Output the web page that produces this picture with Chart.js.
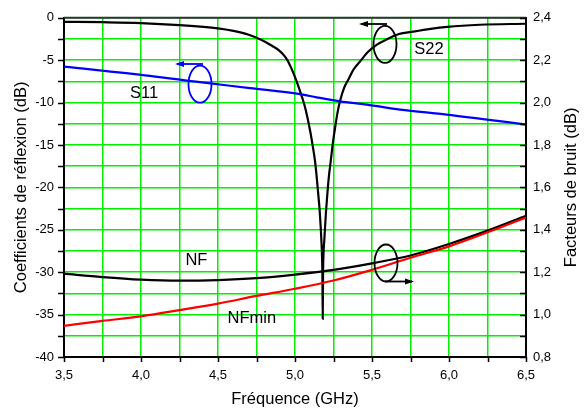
<!DOCTYPE html>
<html>
<head>
<meta charset="utf-8">
<script src="https://cdn.jsdelivr.net/npm/chart.js@4/dist/chart.umd.min.js"></script>
<style>
html,body{margin:0;padding:0;background:#fff;}
#wrap{width:585px;height:409px;position:relative;}
</style>
</head>
<body>
<div id="wrap"><canvas id="c" width="585" height="409"></canvas></div>
<script>
// ---- Data ----
const s22Freq = [3.5, 3.75, 4.0, 4.25, 4.5, 4.6, 4.7, 4.78, 4.85, 4.9, 4.94, 4.97, 5.0, 5.03, 5.06, 5.08, 5.1, 5.115, 5.13, 5.14, 5.151, 5.16, 5.167, 5.172, 5.175, 5.178, 5.180,
                 5.182, 5.185, 5.19, 5.195, 5.202, 5.21, 5.22, 5.232, 5.245, 5.26, 5.275, 5.292, 5.32, 5.346, 5.38, 5.422, 5.47, 5.532, 5.6, 5.662, 5.766, 5.88, 5.99, 6.2, 6.5];
const s22Val  = [-0.47, -0.52, -0.62, -0.86, -1.25, -1.55, -2.0, -2.6, -3.3, -3.9, -4.7, -5.7, -7.0, -8.5, -10.2, -11.7, -13.5, -15.1, -16.9, -18.6, -20.8, -22.7, -24.7, -26.5, -27.84, -30.5, -35.5,
                 -30.5, -27.84, -26.3, -24.7, -22.7, -20.8, -18.7, -16.9, -14.9, -13.0, -11.3, -9.85, -8.2, -7.3, -6.1, -5.16, -4.1, -3.17, -2.5, -1.99, -1.64, -1.3, -1.06, -0.82, -0.70];

const s11Freq = [3.5, 4.058, 4.383, 4.708, 5.032, 5.141, 5.292, 5.466, 5.682, 5.985, 6.5];
const s11Val  = [-5.75, -6.84, -7.59, -8.29, -9.0, -9.38, -9.85, -10.24, -10.83, -11.41, -12.59];

const nfFreq    = [3.5, 3.75, 4.0, 4.25, 4.5, 4.75, 5.0, 5.25, 5.5, 5.75, 6.0, 6.25, 6.5];
const nfVal     = [1.193, 1.177, 1.165, 1.160, 1.163, 1.172, 1.189, 1.211, 1.242, 1.279, 1.333, 1.396, 1.466];
const nfminVal  = [0.947, 0.970, 0.992, 1.021, 1.052, 1.088, 1.122, 1.161, 1.211, 1.268, 1.322, 1.388, 1.458];

const xTickLabels  = ['3,5', '4,0', '4,5', '5,0', '5,5', '6,0', '6,5'];
const yTickLabels  = ['0', '-5', '-10', '-15', '-20', '-25', '-30', '-35', '-40'];
const y2TickLabels = ['0,8', '1,0', '1,2', '1,4', '1,6', '1,8', '2,0', '2,2', '2,4'];

const xTitle  = 'Fréquence (GHz)';
const yTitle  = 'Coefficients de réflexion (dB)';
const y2Title = 'Facteurs de bruit (dB)';
const curveLabels = ['S11', 'S22', 'NF', 'NFmin'];

// ---- helpers ----
const zip = (xs, ys) => xs.map((x, i) => ({x: x, y: ys[i]}));
const FONT = '"Liberation Sans", Arial, sans-serif';
const GRID = '#00f000';
const isMult = (v, step) => Math.abs(Math.round(v / step) * step - v) < 1e-6;

function labelX(v) {
  if (!isMult(v, 0.5)) return '';
  const i = Math.round((v - 3.5) / 0.5);
  return xTickLabels[i] ?? '';
}
function labelY(v) {
  if (!isMult(v, 5)) return '';
  const i = Math.round(-v / 5);
  return yTickLabels[i] ?? '';
}
function labelY2(v) {
  if (!isMult(v, 0.2)) return '';
  const i = Math.round((v - 0.8) / 0.2);
  return y2TickLabels[i] ?? '';
}

const decor = {
  id: 'decor',
  afterDraw(chart) {
    const ctx = chart.ctx;
    const a = chart.chartArea;
    const xs = chart.scales.x, ys = chart.scales.y, y2 = chart.scales.y2;
    ctx.save();
    // top border
    ctx.strokeStyle = '#333';
    ctx.lineWidth = 2;
    ctx.beginPath();
    ctx.moveTo(a.left, a.top); ctx.lineTo(a.right, a.top);
    ctx.stroke();
    // tick marks
    ctx.strokeStyle = '#000';
    ctx.lineWidth = 1.5;
    ctx.beginPath();
    ys.ticks.forEach(t => { const p = Math.round(ys.getPixelForValue(t.value)) + 0.5; ctx.moveTo(a.left - 6, p); ctx.lineTo(a.left, p); });
    xs.ticks.forEach(t => { const p = Math.round(xs.getPixelForValue(t.value)) + 0.5; ctx.moveTo(p, a.bottom); ctx.lineTo(p, a.bottom + 5); });
    y2.ticks.forEach(t => { const p = Math.round(y2.getPixelForValue(t.value)) + 0.5; ctx.moveTo(a.right - 6, p); ctx.lineTo(a.right, p); });
    ctx.stroke();

    // axis titles
    ctx.fillStyle = '#000';
    ctx.font = '16.5px ' + FONT;
    ctx.textAlign = 'center';
    ctx.textBaseline = 'middle';
    ctx.fillText(xTitle, (a.left + a.right) / 2, 399);
    ctx.save();
    ctx.translate(21, (a.top + a.bottom) / 2);
    ctx.rotate(-Math.PI / 2);
    ctx.fillText(yTitle, 0, 0);
    ctx.restore();
    ctx.save();
    ctx.translate(571, (a.top + a.bottom) / 2);
    ctx.rotate(-Math.PI / 2);
    ctx.fillText(y2Title, 0, 0);
    ctx.restore();

    // curve labels (anchored by data coordinates)
    ctx.font = '16.5px ' + FONT;
    const put = (txt, fx, fy) => ctx.fillText(txt, xs.getPixelForValue(fx), ys.getPixelForValue(fy));
    put(curveLabels[0], 4.02, -8.9);
    put(curveLabels[1], 5.87, -3.75);
    put(curveLabels[2], 4.36, -28.6);
    put(curveLabels[3], 4.72, -35.5);

    // ellipses + arrows
    const ell = (color, fx, fy, w, h) => {
      ctx.strokeStyle = color; ctx.lineWidth = 1.8;
      ctx.beginPath();
      ctx.ellipse(xs.getPixelForValue(fx), ys.getPixelForValue(fy), w / 2, h / 2, 0, 0, Math.PI * 2);
      ctx.stroke();
    };
    const arrow = (color, x0, x1, y) => {
      ctx.strokeStyle = color; ctx.fillStyle = color; ctx.lineWidth = 1.8;
      ctx.beginPath(); ctx.moveTo(x0, y); ctx.lineTo(x1, y); ctx.stroke();
      const d = x1 < x0 ? -1 : 1;
      ctx.beginPath();
      ctx.moveTo(x1 + d * 2, y);
      ctx.lineTo(x1 - d * 7, y - 3);
      ctx.lineTo(x1 - d * 7, y + 3);
      ctx.closePath(); ctx.fill();
    };
    // S11 (blue, left axis)
    ell('#0000ff', 3.5 + (200 - 64) / 154, -(82.7 - 16) / 8.525, 23, 37);
    arrow('#0000ff', 203, 177, 64);
    // S22 (black, left axis)
    ell('#000', 3.5 + (385 - 64) / 154, -(42.7 - 16) / 8.525, 23, 37);
    arrow('#000', 387, 361, 24);
    // NF (black, right axis)
    ell('#000', 3.5 + (386 - 64) / 154, -(262.5 - 16) / 8.525, 23, 37);
    arrow('#000', 385, 412, 281.5);
    ctx.restore();
  }
};

new Chart(document.getElementById('c'), {
  type: 'line',
  data: {
    datasets: [
      { label: 'NFmin', data: zip(nfFreq, nfminVal), yAxisID: 'y2', borderColor: '#ff0000', borderWidth: 2.2, pointRadius: 0, cubicInterpolationMode: 'monotone', fill: false },
      { label: 'NF', data: zip(nfFreq, nfVal), yAxisID: 'y2', borderColor: '#000000', borderWidth: 2.2, pointRadius: 0, cubicInterpolationMode: 'monotone', fill: false },
      { label: 'S11', data: zip(s11Freq, s11Val), yAxisID: 'y', borderColor: '#0000ff', borderWidth: 2.2, pointRadius: 0, cubicInterpolationMode: 'monotone', fill: false },
      { label: 'S22', data: zip(s22Freq, s22Val), yAxisID: 'y', borderColor: '#000000', borderWidth: 2.2, pointRadius: 0, cubicInterpolationMode: 'monotone', fill: false }
    ]
  },
  options: {
    responsive: false,
    animation: false,
    layout: { padding: { top: 16, left: 0, right: 0, bottom: 0 } },
    plugins: { legend: { display: false }, tooltip: { enabled: false } },
    scales: {
      x: {
        type: 'linear', min: 3.5, max: 6.5,
        afterFit: s => { s.height = 52; },
        ticks: { stepSize: 0.25, autoSkip: false, maxRotation: 0, padding: 11, color: '#000', font: { family: FONT, size: 13 }, callback: v => labelX(v) },
        grid: { color: GRID, lineWidth: 1.5, drawTicks: false },
        border: { display: true, color: '#000', width: 2 }
      },
      y: {
        type: 'linear', position: 'left', min: -40, max: 0,
        afterFit: s => { s.width = 64; },
        ticks: { stepSize: 2.5, autoSkip: false, padding: 10, color: '#000', font: { family: FONT, size: 13 }, callback: v => labelY(v) },
        grid: { color: GRID, lineWidth: 1.5, drawTicks: false },
        border: { display: true, color: '#000', width: 2 }
      },
      y2: {
        type: 'linear', position: 'right', min: 0.8, max: 2.4,
        afterFit: s => { s.width = 59; },
        ticks: { stepSize: 0.1, autoSkip: false, padding: 7, color: '#000', font: { family: FONT, size: 13 }, callback: v => labelY2(v) },
        grid: { drawOnChartArea: false, drawTicks: false },
        border: { display: true, color: '#000', width: 2 }
      }
    }
  },
  plugins: [decor]
});
</script>
</body>
</html>
